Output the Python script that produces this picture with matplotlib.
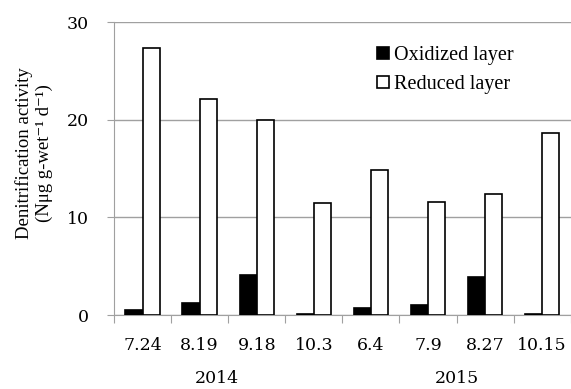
import matplotlib.pyplot as plt
import numpy as np

dates = ["7.24", "8.19", "9.18", "10.3", "6.4", "7.9", "8.27", "10.15"]
years = ["2014", "2015"]
oxidized = [0.5, 1.2, 4.1, 0.1, 0.7, 1.0, 3.9, 0.15]
reduced = [27.3, 22.1, 20.0, 11.5, 14.9, 11.6, 12.4, 18.6]

plt.rcParams['font.family'] = ['Liberation Serif', 'DejaVu Serif']

fig = plt.figure(figsize=(5.71, 3.89), dpi=100)
ax = fig.add_axes([0.1996, 0.190, 0.80, 0.7534])

x = np.arange(len(dates))
w = 0.3
ax.bar(x - w / 2, oxidized, w, color="black", edgecolor="black", linewidth=1.2, label="Oxidized layer", zorder=3)
ax.bar(x + w / 2, reduced, w, color="white", edgecolor="black", linewidth=1.2, label="Reduced layer", zorder=3)

ax.set_xlim(-0.5, len(dates) - 0.5)
ax.set_ylim(0, 30)
ax.set_yticks([0, 10, 20, 30])
ax.set_yticklabels(["0", "10", "20", "30"], family="DejaVu Serif", fontsize=12.5)
ax.yaxis.grid(True, color="#a0a0a0", linewidth=1)
ax.set_axisbelow(True)

# category boundaries as ticks
ax.set_xticks(np.arange(len(dates) + 1) - 0.5)
ax.set_xticklabels([])
ax.set_xticks(x, minor=True)
ax.set_xticklabels(dates, minor=True, family="DejaVu Serif", fontsize=12.5)
ax.tick_params(axis="x", which="major", length=6, color="#a0a0a0", direction="out")
ax.tick_params(axis="x", which="minor", length=0, pad=16)
ax.tick_params(axis="y", length=5, color="#a0a0a0", pad=13)

for s in ["top", "right"]:
    ax.spines[s].set_visible(False)
ax.spines["left"].set_color("#a0a0a0")
ax.spines["bottom"].set_color("#a0a0a0")

for lab, xp in zip(years, [1.3, 5.5]):
    ax.text(xp, -6.5, lab, ha="center", va="center", fontsize=12.5, family="DejaVu Serif")

ax.set_ylabel("Denitrification activity\n(Nμg g-wet⁻¹ d⁻¹)", fontsize=13.5, linespacing=1.25)
ax.yaxis.set_label_coords(-0.133, 0.553)

ax.legend(loc="upper left", bbox_to_anchor=(0.575, 0.918), frameon=False, fontsize=14.5, borderpad=0,
          borderaxespad=0, handlelength=0.6, handleheight=0.6, handletextpad=0.25, labelspacing=0.5)

fig.savefig("out.png", dpi=100)
